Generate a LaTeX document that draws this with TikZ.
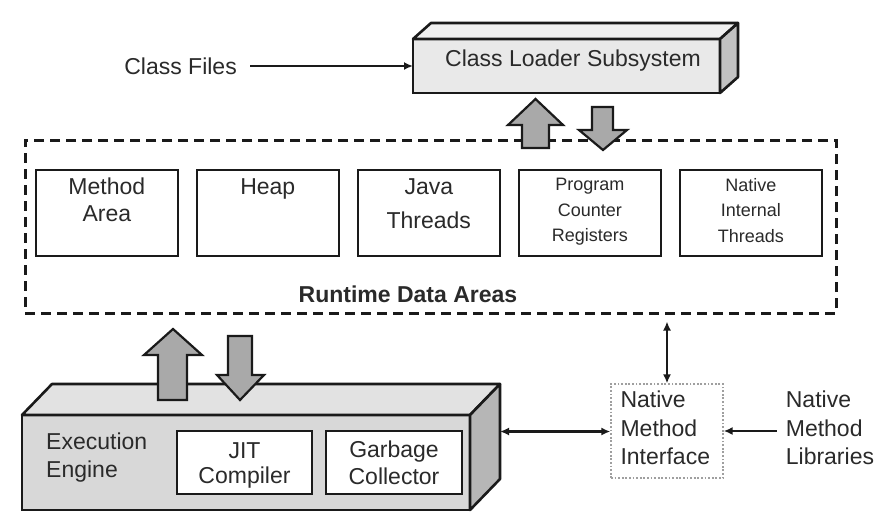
\documentclass[tikz,border=0pt]{standalone}
\usepackage{fontspec}
\setmainfont{Liberation Sans}
\usetikzlibrary{positioning,calc,arrows.meta}

\definecolor{txtgray}{HTML}{2A2A2A}
\definecolor{linegray}{HTML}{1A1A1A}
\definecolor{clfront}{HTML}{E9E9E9}
\definecolor{cltop}{HTML}{F0F0F0}
\definecolor{clside}{HTML}{C2C2C2}
\definecolor{eefront}{HTML}{D8D8D8}
\definecolor{eetop}{HTML}{E2E2E2}
\definecolor{eeside}{HTML}{B6B6B6}
\definecolor{arrowgray}{HTML}{A9A9A9}

\newcommand{\txtsize}[2]{\fontsize{#1}{#2}\selectfont}

\tikzset{
  membox/.style={draw=linegray, line width=2.6pt, fill=white, minimum width=142pt, minimum height=86pt, inner sep=0pt},
  subbox/.style={draw=linegray, line width=2.6pt, fill=white, minimum height=63pt, inner sep=0pt},
  solidbox/.style={draw=linegray, line width=2.6pt, inner sep=0pt, outer sep=0pt},
  lbl/.style={text=txtgray, inner sep=0pt, align=center, font=\txtsize{23}{27}},
  arr/.style={-{Latex[length=9pt,width=8pt]}, line width=2.2pt, draw=linegray},
  dblarr/.style={{Latex[length=9pt,width=8pt]}-{Latex[length=9pt,width=8pt]}, line width=2.2pt, draw=linegray},
  fatarrow/.style={draw=linegray, line width=2.2pt, fill=arrowgray, line join=miter},
}

\begin{document}
\begin{tikzpicture}[x=1pt, y=-1pt]
    \path[fill=white, use as bounding box] (0,0) rectangle (888,525);

    % Runtime data areas
    \node[draw=linegray, line width=3pt, dash pattern=on 10pt off 6pt, minimum width=811pt, minimum height=173pt] (rda) at (430.5,226.5) {};
    \node[membox, below right=30pt and 11pt of rda.north west] (ma) {};
    \node[membox, right=16.4pt of ma] (hp) {};
    \node[membox, right=16.4pt of hp] (jt) {};
    \node[membox, right=16.4pt of jt] (pc) {};
    \node[membox, right=16.4pt of pc] (nit) {};
    \node[lbl, below=9.5pt of ma.north] (matx) {Method\\Area};
    \node[lbl, below=9.5pt of hp.north] (hptx) {Heap};
    \node[lbl, font=\txtsize{23}{34}, below=9.5pt of jt.north] (jttx) {Java\\Threads};
    \node[lbl, font=\txtsize{18}{25.5}, below=9.5pt of pc.north] (pctx) {Program\\Counter\\Registers};
    \node[lbl, font=\txtsize{18}{25.5}, below=9.5pt of nit.north] (nittx) {Native\\Internal\\Threads};
    \node[lbl, font=\bfseries\txtsize{23}{27}, anchor=south] (rdatx) at ([shift={(-22.5,-12)}]rda.south) {Runtime Data Areas};

    % Class loader
    \node[solidbox, fill=clfront, minimum width=307pt, minimum height=54pt] (cl) at (566.5,66) {};
    \draw[solidbox, fill=cltop, line join=round] (cl.north west) -- ++(18,-16) -- ++(307,0) -- (cl.north east) -- cycle;
    \draw[solidbox, fill=clside, line join=round] (cl.north east) -- ++(18,-16) -- ++(0,54) -- (cl.south east) -- cycle;
    \node[lbl] (cltx) at ([shift={(6.5,-5.7)}]cl.center) {Class Loader Subsystem};
    \node[lbl, left=176pt of cl.west] (cf) {Class Files};
    \draw[arr, shorten <=13pt] (cf.east) -- (cl.west);

    % Execution engine
    \node[solidbox, fill=eefront, minimum width=448pt, minimum height=95pt] (ee) at (246,462.5) {};
    \draw[solidbox, fill=eetop, line join=round] (ee.north west) -- ++(30,-31) -- ++(448,0) -- (ee.north east) -- cycle;
    \draw[solidbox, fill=eeside, line join=round] (ee.north east) -- ++(30,-31) -- ++(0,95) -- (ee.south east) -- cycle;
    \coordinate (eeside) at ([shift={(30,-31)}]ee.east);
    \node[subbox, minimum width=135pt] (jit) at (244.5,462.5) {};
    \node[subbox, minimum width=136pt, right=11.4pt of jit] (gc) {};
    \node[lbl, font=\txtsize{23}{28}, align=left, anchor=north west] (eetx) at ([shift={(24,18)}]ee.north west) {Execution\\Engine};
    \node[lbl, font=\txtsize{23}{25}, below=12.8pt of jit.north] (jittx) {JIT\\Compiler};
    \node[lbl, below=10.5pt of gc.north] (gctx) {Garbage\\Collector};

    % Block arrows
    \draw[fatarrow] (522,148) -- (522,125) -- (508,125) -- (535.5,99) -- (563,125) -- (549,125) -- (549,148) -- cycle;
    \draw[fatarrow] (592,107) -- (592,130) -- (579,130) -- (603,150) -- (627,130) -- (613,130) -- (613,107) -- cycle;
    \draw[fatarrow] (158,400) -- (158,355) -- (144,355) -- (173,329) -- (202,355) -- (187,355) -- (187,400) -- cycle;
    \draw[fatarrow] (228,336) -- (228,375) -- (217,375) -- (240,400) -- (264,375) -- (252,375) -- (252,336) -- cycle;

    % Native method interface
    \node[draw=gray!75, line width=1.3pt, dash pattern=on 1.8pt off 1.8pt, minimum width=112pt, minimum height=94pt] (nmi) at (667,431) {};
    \node[lbl, font=\txtsize{23}{28.5}, align=left, anchor=north west] (nmitx) at ([shift={(10,7.5)}]nmi.north west) {Native\\Method\\Interface};
    \node[lbl, font=\txtsize{23}{28.5}, align=left, anchor=north west] (nml) at ([shift={(62,7.5)}]nmi.north east) {Native\\Method\\Libraries};
    \draw[dblarr, shorten <=7pt] (nmi.north |- rda.south) -- (nmi.north);
    \draw[dblarr] (eeside) -- (eeside -| nmi.west);
    \draw[arr, shorten <=9pt] (nmi.east -| nml.west) -- (nmi.east);
\end{tikzpicture}
\end{document}
